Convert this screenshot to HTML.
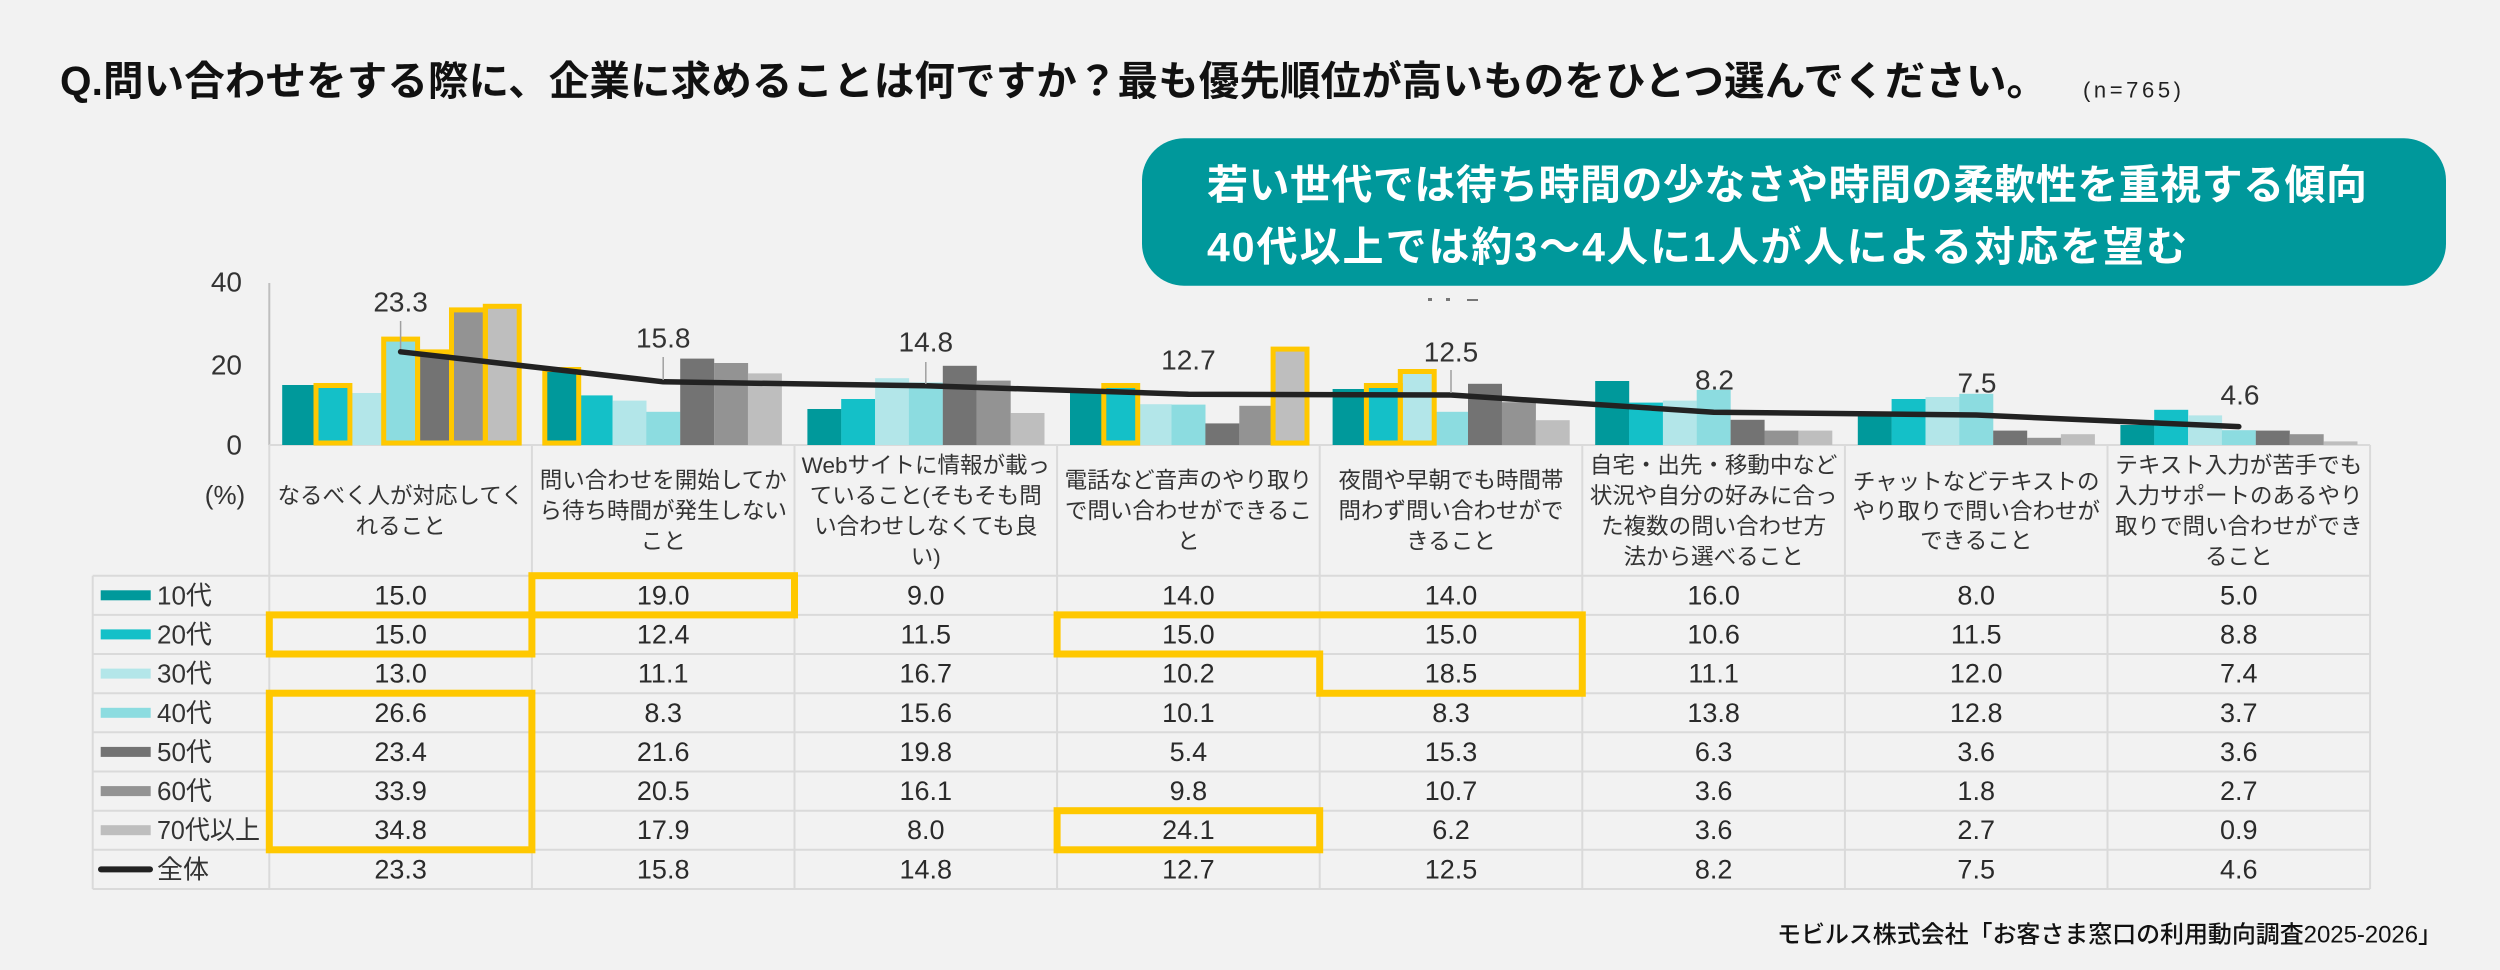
<!DOCTYPE html>
<html>
<head>
<meta charset="utf-8">
<style>
  html,body{margin:0;padding:0;background:#f2f2f2;}
  svg{display:block;}
  text{font-family:"Liberation Sans","Noto Sans CJK JP",sans-serif;}
</style>
</head>
<body>
<svg width="2500" height="970" viewBox="0 0 2500 970" xmlns="http://www.w3.org/2000/svg">
  <rect x="0" y="0" width="2500" height="970" fill="#f2f2f2"/>

  <!-- Title -->
  <text x="60" y="81" font-size="40.5" font-weight="bold" fill="#111" dominant-baseline="central" textLength="1987" lengthAdjust="spacing">Q.問い合わせをする際に、企業に求めることは何ですか？最も優先順位が高いものをひとつ選んでください。</text>
  <text x="2083" y="90" font-size="22" fill="#222" dominant-baseline="central" textLength="98" lengthAdjust="spacing">(n=765)</text>

  <!-- hidden label remnants -->
  <rect x="1428" y="298" width="4" height="3" fill="#777"/>
  <rect x="1446" y="298" width="4" height="3" fill="#777"/>
  <rect x="1467" y="299" width="11" height="2" fill="#777"/>

  <!-- Axes -->
  <line x1="269.3" y1="283" x2="269.3" y2="445" stroke="#bfbfbf" stroke-width="2"/>
  <text x="242" y="282" font-size="28" fill="#333" text-anchor="end" dominant-baseline="central">40</text>
  <text x="242" y="365" font-size="28" fill="#333" text-anchor="end" dominant-baseline="central">20</text>
  <text x="242" y="445" font-size="28" fill="#333" text-anchor="end" dominant-baseline="central">0</text>

  <!-- Table grid -->
  <g stroke="#dadada" stroke-width="2">
    <line x1="269.3" y1="445" x2="2370.1" y2="445"/>
    <line x1="92.7" y1="575.7" x2="2370.1" y2="575.7"/>
    <line x1="92.7" y1="614.9" x2="2370.1" y2="614.9"/>
    <line x1="92.7" y1="654.0" x2="2370.1" y2="654.0"/>
    <line x1="92.7" y1="693.2" x2="2370.1" y2="693.2"/>
    <line x1="92.7" y1="732.3" x2="2370.1" y2="732.3"/>
    <line x1="92.7" y1="771.5" x2="2370.1" y2="771.5"/>
    <line x1="92.7" y1="810.7" x2="2370.1" y2="810.7"/>
    <line x1="92.7" y1="849.8" x2="2370.1" y2="849.8"/>
    <line x1="92.7" y1="889.0" x2="2370.1" y2="889.0"/>
    <line x1="92.7" y1="575.7" x2="92.7" y2="889"/>
    <line x1="269.3" y1="445" x2="269.3" y2="889"/>
    <line x1="531.9" y1="445" x2="531.9" y2="889"/>
    <line x1="794.5" y1="445" x2="794.5" y2="889"/>
    <line x1="1057.1" y1="445" x2="1057.1" y2="889"/>
    <line x1="1319.7" y1="445" x2="1319.7" y2="889"/>
    <line x1="1582.3" y1="445" x2="1582.3" y2="889"/>
    <line x1="1844.9" y1="445" x2="1844.9" y2="889"/>
    <line x1="2107.5" y1="445" x2="2107.5" y2="889"/>
    <line x1="2370.1" y1="445" x2="2370.1" y2="889"/>
  </g>

  <!-- Bars -->
  <g>
    <!-- k0 -->
    <rect x="282.2" y="385" width="34" height="60" fill="#00999b"/>
    <rect x="316.0" y="385" width="34" height="60" fill="#14c0c8"/>
    <rect x="349.9" y="393" width="34" height="52" fill="#b3e6e9"/>
    <rect x="383.7" y="338.6" width="34" height="106.4" fill="#8cdce0"/>
    <rect x="417.6" y="351.4" width="34" height="93.6" fill="#737373"/>
    <rect x="451.5" y="309.4" width="34" height="135.6" fill="#939393"/>
    <rect x="485.3" y="305.8" width="34" height="139.2" fill="#bebebe"/>
    <!-- k1 -->
    <rect x="544.8" y="369" width="34" height="76" fill="#00999b"/>
    <rect x="578.6" y="395.4" width="34" height="49.6" fill="#14c0c8"/>
    <rect x="612.5" y="400.6" width="34" height="44.4" fill="#b3e6e9"/>
    <rect x="646.3" y="411.8" width="34" height="33.2" fill="#8cdce0"/>
    <rect x="680.2" y="358.6" width="34" height="86.4" fill="#737373"/>
    <rect x="714.1" y="363" width="34" height="82" fill="#939393"/>
    <rect x="747.9" y="373.4" width="34" height="71.6" fill="#bebebe"/>
    <!-- k2 -->
    <rect x="807.4" y="409" width="34" height="36" fill="#00999b"/>
    <rect x="841.2" y="399" width="34" height="46" fill="#14c0c8"/>
    <rect x="875.1" y="378.2" width="34" height="66.8" fill="#b3e6e9"/>
    <rect x="908.9" y="382.6" width="34" height="62.4" fill="#8cdce0"/>
    <rect x="942.8" y="365.8" width="34" height="79.2" fill="#737373"/>
    <rect x="976.7" y="380.6" width="34" height="64.4" fill="#939393"/>
    <rect x="1010.5" y="413" width="34" height="32" fill="#bebebe"/>
    <!-- k3 -->
    <rect x="1070.0" y="389" width="34" height="56" fill="#00999b"/>
    <rect x="1103.8" y="385" width="34" height="60" fill="#14c0c8"/>
    <rect x="1137.7" y="404.2" width="34" height="40.8" fill="#b3e6e9"/>
    <rect x="1171.5" y="404.6" width="34" height="40.4" fill="#8cdce0"/>
    <rect x="1205.4" y="423.4" width="34" height="21.6" fill="#737373"/>
    <rect x="1239.3" y="405.8" width="34" height="39.2" fill="#939393"/>
    <rect x="1273.1" y="348.6" width="34" height="96.4" fill="#bebebe"/>
    <!-- k4 -->
    <rect x="1332.6" y="389" width="34" height="56" fill="#00999b"/>
    <rect x="1366.4" y="385" width="34" height="60" fill="#14c0c8"/>
    <rect x="1400.3" y="371" width="34" height="74" fill="#b3e6e9"/>
    <rect x="1434.1" y="411.8" width="34" height="33.2" fill="#8cdce0"/>
    <rect x="1468.0" y="383.8" width="34" height="61.2" fill="#737373"/>
    <rect x="1501.9" y="402.2" width="34" height="42.8" fill="#939393"/>
    <rect x="1535.7" y="420.2" width="34" height="24.8" fill="#bebebe"/>
    <!-- k5 -->
    <rect x="1595.2" y="381" width="34" height="64" fill="#00999b"/>
    <rect x="1629.0" y="402.6" width="34" height="42.4" fill="#14c0c8"/>
    <rect x="1662.9" y="400.6" width="34" height="44.4" fill="#b3e6e9"/>
    <rect x="1696.7" y="389.8" width="34" height="55.2" fill="#8cdce0"/>
    <rect x="1730.6" y="419.8" width="34" height="25.2" fill="#737373"/>
    <rect x="1764.5" y="430.6" width="34" height="14.4" fill="#939393"/>
    <rect x="1798.3" y="430.6" width="34" height="14.4" fill="#bebebe"/>
    <!-- k6 -->
    <rect x="1857.8" y="413" width="34" height="32" fill="#00999b"/>
    <rect x="1891.6" y="399" width="34" height="46" fill="#14c0c8"/>
    <rect x="1925.5" y="397" width="34" height="48" fill="#b3e6e9"/>
    <rect x="1959.3" y="393.8" width="34" height="51.2" fill="#8cdce0"/>
    <rect x="1993.2" y="430.6" width="34" height="14.4" fill="#737373"/>
    <rect x="2027.1" y="437.8" width="34" height="7.2" fill="#939393"/>
    <rect x="2060.9" y="434.2" width="34" height="10.8" fill="#bebebe"/>
    <!-- k7 -->
    <rect x="2120.4" y="425" width="34" height="20" fill="#00999b"/>
    <rect x="2154.2" y="409.8" width="34" height="35.2" fill="#14c0c8"/>
    <rect x="2188.1" y="415.4" width="34" height="29.6" fill="#b3e6e9"/>
    <rect x="2221.9" y="430.2" width="34" height="14.8" fill="#8cdce0"/>
    <rect x="2255.8" y="430.6" width="34" height="14.4" fill="#737373"/>
    <rect x="2289.7" y="434.2" width="34" height="10.8" fill="#939393"/>
    <rect x="2323.5" y="441.4" width="34" height="3.6" fill="#bebebe"/>
  </g>

  <!-- Yellow outlines on bars -->
  <g fill="none" stroke="#ffc800" stroke-width="5">
    <rect x="316.0" y="385.5" width="33.9" height="57.5"/>
    <rect x="383.7" y="339.1" width="33.9" height="103.9"/>
    <rect x="417.6" y="351.9" width="33.9" height="91.1"/>
    <rect x="451.5" y="309.9" width="33.9" height="133.1"/>
    <rect x="485.3" y="306.3" width="33.9" height="136.7"/>
    <rect x="544.8" y="369.5" width="33.9" height="73.5"/>
    <rect x="1103.8" y="385.5" width="33.9" height="57.5"/>
    <rect x="1273.1" y="349.1" width="33.9" height="93.9"/>
    <rect x="1366.4" y="385.5" width="33.9" height="57.5"/>
    <rect x="1400.3" y="371.5" width="33.9" height="71.5"/>
  </g>

  <!-- Overall line -->
  <polyline points="400.6,351.8 663.2,381.8 925.8,385.8 1188.4,394.2 1451.0,395 1713.6,412.2 1976.2,415 2238.8,426.6" fill="none" stroke="#222" stroke-width="5.5" stroke-linecap="round" stroke-linejoin="round"/>

  <!-- Leaders -->
  <g stroke="#a0a0a0" stroke-width="1.5">
    <line x1="400.6" y1="321" x2="400.6" y2="349"/>
    <line x1="663.2" y1="357" x2="663.2" y2="380"/>
    <line x1="925.8" y1="362" x2="925.8" y2="384"/>
    <line x1="1451" y1="370" x2="1451" y2="393"/>
  </g>

  <!-- Data labels -->
  <g font-size="28" fill="#333" text-anchor="middle" dominant-baseline="central">
    <text x="400.6" y="302">23.3</text>
    <text x="663.2" y="338">15.8</text>
    <text x="925.8" y="342">14.8</text>
    <text x="1188.4" y="360">12.7</text>
    <text x="1451" y="352">12.5</text>
    <text x="1714.5" y="380">8.2</text>
    <text x="1977" y="383">7.5</text>
    <text x="2240" y="395">4.6</text>
  </g>

  <!-- Callout -->
  <rect x="1142" y="138.3" width="1304" height="147.4" rx="42" ry="42" fill="#00989b"/>
  <text x="1207" y="185" font-size="41" font-weight="bold" fill="#ffffff" dominant-baseline="central" textLength="1160" lengthAdjust="spacing">若い世代では待ち時間の少なさや時間の柔軟性を重視する傾向</text>
  <text x="1207" y="247" font-size="41" font-weight="bold" fill="#ffffff" dominant-baseline="central" textLength="980" lengthAdjust="spacing">40代以上では約3～4人に1人が人による対応を望む</text>

  <!-- Header -->
  <text x="225" y="495" font-size="26" fill="#333" text-anchor="middle" dominant-baseline="central">(%)</text>
  <g font-size="22.5" fill="#333" text-anchor="middle" dominant-baseline="central">
    <text x="400.6" y="495.8">なるべく人が対応してく</text>
    <text x="400.6" y="526.3">れること</text>

    <text x="663.2" y="480.5">問い合わせを開始してか</text>
    <text x="663.2" y="511">ら待ち時間が発生しない</text>
    <text x="663.2" y="541.5">こと</text>

    <text x="925.8" y="465.3">Webサイトに情報が載っ</text>
    <text x="925.8" y="495.8">ていること(そもそも問</text>
    <text x="925.8" y="526.3">い合わせしなくても良</text>
    <text x="925.8" y="556.8">い)</text>

    <text x="1188.4" y="480.5">電話など音声のやり取り</text>
    <text x="1188.4" y="511">で問い合わせができるこ</text>
    <text x="1188.4" y="541.5">と</text>

    <text x="1451" y="480.5">夜間や早朝でも時間帯</text>
    <text x="1451" y="511">問わず問い合わせがで</text>
    <text x="1451" y="541.5">きること</text>

    <text x="1713.6" y="465.3">自宅・出先・移動中など</text>
    <text x="1713.6" y="495.8">状況や自分の好みに合っ</text>
    <text x="1713.6" y="526.3">た複数の問い合わせ方</text>
    <text x="1713.6" y="556.8">法から選べること</text>

    <text x="1976.2" y="482">チャットなどテキストの</text>
    <text x="1976.2" y="511.5">やり取りで問い合わせが</text>
    <text x="1976.2" y="541">できること</text>

    <text x="2238.8" y="465.3">テキスト入力が苦手でも</text>
    <text x="2238.8" y="495.8">入力サポートのあるやり</text>
    <text x="2238.8" y="526.3">取りで問い合わせができ</text>
    <text x="2238.8" y="556.8">ること</text>
  </g>

  <!-- Legend keys -->
  <rect x="100.7" y="590.3" width="50" height="10" fill="#00999b"/>
  <rect x="100.7" y="629.4" width="50" height="10" fill="#14c0c8"/>
  <rect x="100.7" y="668.6" width="50" height="10" fill="#b3e6e9"/>
  <rect x="100.7" y="707.8" width="50" height="10" fill="#8cdce0"/>
  <rect x="100.7" y="746.9" width="50" height="10" fill="#737373"/>
  <rect x="100.7" y="786.1" width="50" height="10" fill="#939393"/>
  <rect x="100.7" y="825.2" width="50" height="10" fill="#bebebe"/>
  <line x1="101" y1="869.4" x2="150" y2="869.4" stroke="#222" stroke-width="6" stroke-linecap="round"/>

  <g font-size="26" fill="#333" dominant-baseline="central">
    <text x="157" y="595.3">10代</text>
    <text x="157" y="634.4">20代</text>
    <text x="157" y="673.6">30代</text>
    <text x="157" y="712.8">40代</text>
    <text x="157" y="751.9">50代</text>
    <text x="157" y="791.1">60代</text>
    <text x="157" y="830.2" textLength="103" lengthAdjust="spacingAndGlyphs">70代以上</text>
    <text x="157" y="869.4">全体</text>
  </g>

  <!-- Values -->
  <g font-size="27" fill="#2a2a2a" text-anchor="middle" dominant-baseline="central">
    <!-- 10代 -->
    <text x="400.6" y="595.3">15.0</text><text x="663.2" y="595.3">19.0</text><text x="925.8" y="595.3">9.0</text><text x="1188.4" y="595.3">14.0</text><text x="1451" y="595.3">14.0</text><text x="1713.6" y="595.3">16.0</text><text x="1976.2" y="595.3">8.0</text><text x="2238.8" y="595.3">5.0</text>
    <!-- 20代 -->
    <text x="400.6" y="634.4">15.0</text><text x="663.2" y="634.4">12.4</text><text x="925.8" y="634.4">11.5</text><text x="1188.4" y="634.4">15.0</text><text x="1451" y="634.4">15.0</text><text x="1713.6" y="634.4">10.6</text><text x="1976.2" y="634.4">11.5</text><text x="2238.8" y="634.4">8.8</text>
    <!-- 30代 -->
    <text x="400.6" y="673.6">13.0</text><text x="663.2" y="673.6">11.1</text><text x="925.8" y="673.6">16.7</text><text x="1188.4" y="673.6">10.2</text><text x="1451" y="673.6">18.5</text><text x="1713.6" y="673.6">11.1</text><text x="1976.2" y="673.6">12.0</text><text x="2238.8" y="673.6">7.4</text>
    <!-- 40代 -->
    <text x="400.6" y="712.8">26.6</text><text x="663.2" y="712.8">8.3</text><text x="925.8" y="712.8">15.6</text><text x="1188.4" y="712.8">10.1</text><text x="1451" y="712.8">8.3</text><text x="1713.6" y="712.8">13.8</text><text x="1976.2" y="712.8">12.8</text><text x="2238.8" y="712.8">3.7</text>
    <!-- 50代 -->
    <text x="400.6" y="751.9">23.4</text><text x="663.2" y="751.9">21.6</text><text x="925.8" y="751.9">19.8</text><text x="1188.4" y="751.9">5.4</text><text x="1451" y="751.9">15.3</text><text x="1713.6" y="751.9">6.3</text><text x="1976.2" y="751.9">3.6</text><text x="2238.8" y="751.9">3.6</text>
    <!-- 60代 -->
    <text x="400.6" y="791.1">33.9</text><text x="663.2" y="791.1">20.5</text><text x="925.8" y="791.1">16.1</text><text x="1188.4" y="791.1">9.8</text><text x="1451" y="791.1">10.7</text><text x="1713.6" y="791.1">3.6</text><text x="1976.2" y="791.1">1.8</text><text x="2238.8" y="791.1">2.7</text>
    <!-- 70代以上 -->
    <text x="400.6" y="830.2">34.8</text><text x="663.2" y="830.2">17.9</text><text x="925.8" y="830.2">8.0</text><text x="1188.4" y="830.2">24.1</text><text x="1451" y="830.2">6.2</text><text x="1713.6" y="830.2">3.6</text><text x="1976.2" y="830.2">2.7</text><text x="2238.8" y="830.2">0.9</text>
    <!-- 全体 -->
    <text x="400.6" y="869.4">23.3</text><text x="663.2" y="869.4">15.8</text><text x="925.8" y="869.4">14.8</text><text x="1188.4" y="869.4">12.7</text><text x="1451" y="869.4">12.5</text><text x="1713.6" y="869.4">8.2</text><text x="1976.2" y="869.4">7.5</text><text x="2238.8" y="869.4">4.6</text>
  </g>

  <!-- Yellow table highlights -->
  <g fill="none" stroke="#ffc800" stroke-width="7">
    <rect x="531.9" y="575.7" width="262.6" height="39.2"/>
    <rect x="269.3" y="614.9" width="262.6" height="39.1"/>
    <rect x="269.3" y="693.2" width="262.6" height="156.6"/>
    <polygon points="1057.1,614.9 1582.3,614.9 1582.3,693.2 1319.7,693.2 1319.7,654.0 1057.1,654.0"/>
    <rect x="1057.1" y="810.7" width="262.6" height="39.1"/>
  </g>

  <!-- Source -->
  <text x="2442" y="935" font-size="24" font-weight="500" fill="#111" text-anchor="end" dominant-baseline="central" textLength="665" lengthAdjust="spacing">モビルス株式会社「お客さま窓口の利用動向調査2025-2026」</text>
</svg>
</body>
</html>
